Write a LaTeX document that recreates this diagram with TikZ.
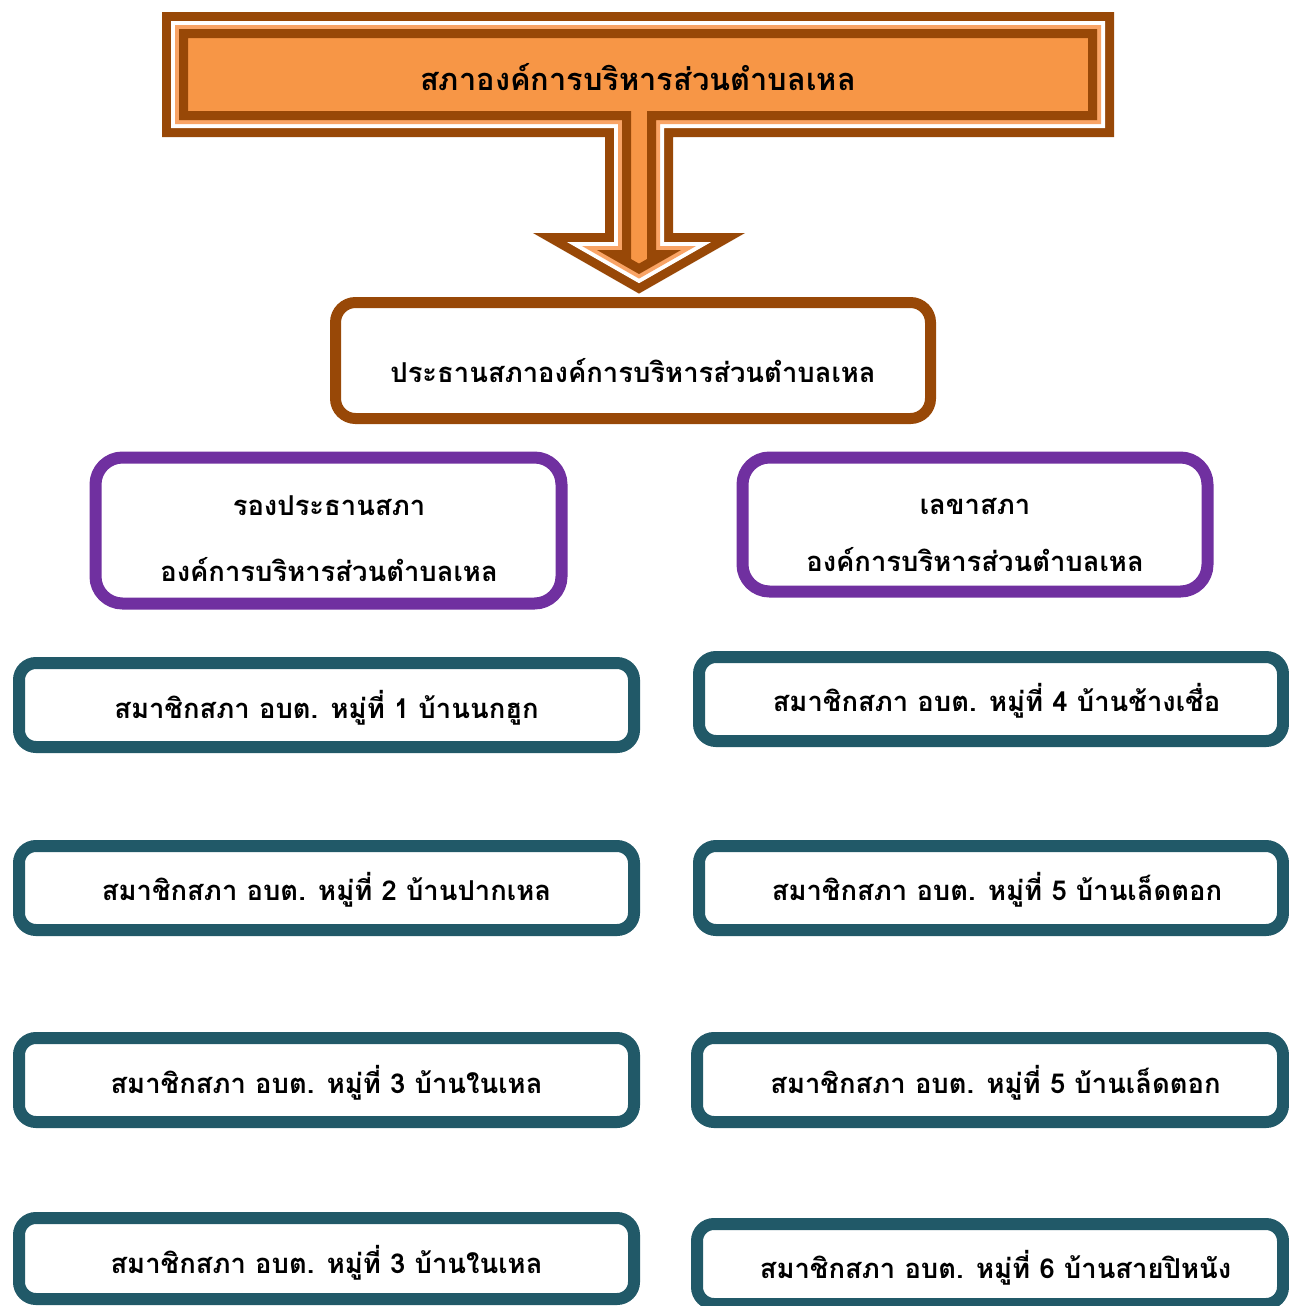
\documentclass[tikz,border=0pt]{standalone}
\usepackage{fontspec}
\setmainfont[Script=Thai]{Loma}
\definecolor{bannerbrown}{HTML}{984807}
\definecolor{bannerorange}{HTML}{F79646}
\definecolor{bandorange}{HTML}{F9A466}
\definecolor{boardpurple}{HTML}{7030A0}
\definecolor{memberteal}{HTML}{215968}
\tikzset{
  boardtext/.style={font=\fontsize{13.7}{16}\selectfont\bfseries, inner sep=0pt},
  titletext/.style={font=\fontsize{15.4}{18}\selectfont\bfseries, inner sep=0pt},
  presbox/.style={draw=bannerbrown, line width=5.5pt, rounded corners=10pt, minimum width=297.5pt, minimum height=58pt, inner sep=0pt},
  deputybox/.style={draw=boardpurple, line width=6pt, rounded corners=13.5pt, inner sep=0pt},
  memberbox/.style={draw=memberteal, line width=6pt, rounded corners=8.5pt, inner sep=0pt}
}
\newcommand\bannerpath{(179,29) -- (1097,29) -- (1097,120) -- (656,120) -- (656,250) -- (681,250) -- (639,274) -- (597,250) -- (622,250) -- (622,120) -- (179,120) -- cycle}
\begin{document}
\begin{tikzpicture}[x=0.5pt, y=-0.5pt]
\useasboundingbox (0,0) rectangle (1289,1306);

% Banner with arrow
\draw[bannerbrown, line width=17pt] \bannerpath;
\draw[white, line width=8pt] \bannerpath;
\draw[bandorange, line width=4pt] \bannerpath;
\fill[bannerorange] \bannerpath;
\begin{scope}
\clip \bannerpath;
\draw[bannerbrown, line width=9pt] \bannerpath;
\end{scope}
\node[titletext] (council) at (638,77) {สภาองค์การบริหารส่วนตำบลเหล};

% President
\node[presbox] (pres) at (633,360.5) {};
\node[boardtext] (pres-text) at (633,371) {ประธานสภาองค์การบริหารส่วนตำบลเหล};

% Vice president
\node[deputybox, minimum width=233pt, minimum height=73pt] (vice) at (328.5,530.5) {};
\node[boardtext] (vice-top) at (329,506) {รองประธานสภา};
\node[boardtext] (vice-bottom) at (329,570) {องค์การบริหารส่วนตำบลเหล};

% Secretary
\node[deputybox, minimum width=232.5pt, minimum height=67pt] (sec) at (975,524.5) {};
\node[boardtext] (sec-top) at (975,506) {เลขาสภา};
\node[boardtext] (sec-bottom) at (975,560) {องค์การบริหารส่วนตำบลเหล};

% Members, left column
\node[memberbox, minimum width=307.5pt, minimum height=42pt] (m1) at (326.5,705) {};
\node[boardtext] (m1-text) at (326.5,708) {สมาชิกสภา อบต. หมู่ที่ 1 บ้านนกฮูก};
\node[memberbox, minimum width=307.5pt, minimum height=42pt] (m2) at (326.5,888) {};
\node[boardtext] (m2-text) at (326.5,890) {สมาชิกสภา อบต. หมู่ที่ 2 บ้านปากเหล};
\node[memberbox, minimum width=307.5pt, minimum height=42pt] (m3) at (326.5,1080) {};
\node[boardtext] (m3-text) at (326.5,1083) {สมาชิกสภา อบต. หมู่ที่ 3 บ้านในเหล};
\node[memberbox, minimum width=307.5pt, minimum height=40.5pt] (m3b) at (326.5,1258.5) {};
\node[boardtext] (m3b-text) at (326.5,1263) {สมาชิกสภา อบต. หมู่ที่ 3 บ้านในเหล};

% Members, right column
\node[memberbox, minimum width=292pt, minimum height=42pt] (m4) at (991,699) {};
\node[boardtext] (m4-text) at (996.5,701) {สมาชิกสภา อบต. หมู่ที่ 4 บ้านช้างเชื่อ};
\node[memberbox, minimum width=292pt, minimum height=42pt] (m5) at (991,888) {};
\node[boardtext] (m5-text) at (997,890) {สมาชิกสภา อบต. หมู่ที่ 5 บ้านเล็ดตอก};
\node[memberbox, minimum width=293pt, minimum height=42pt] (m5b) at (990,1080) {};
\node[boardtext] (m5b-text) at (995.5,1083) {สมาชิกสภา อบต. หมู่ที่ 5 บ้านเล็ดตอก};
\node[memberbox, minimum width=293pt, minimum height=40pt] (m6) at (990,1264) {};
\node[boardtext] (m6-text) at (995.5,1268) {สมาชิกสภา อบต. หมู่ที่ 6 บ้านสายปิหนัง};
\end{tikzpicture}
\end{document}
